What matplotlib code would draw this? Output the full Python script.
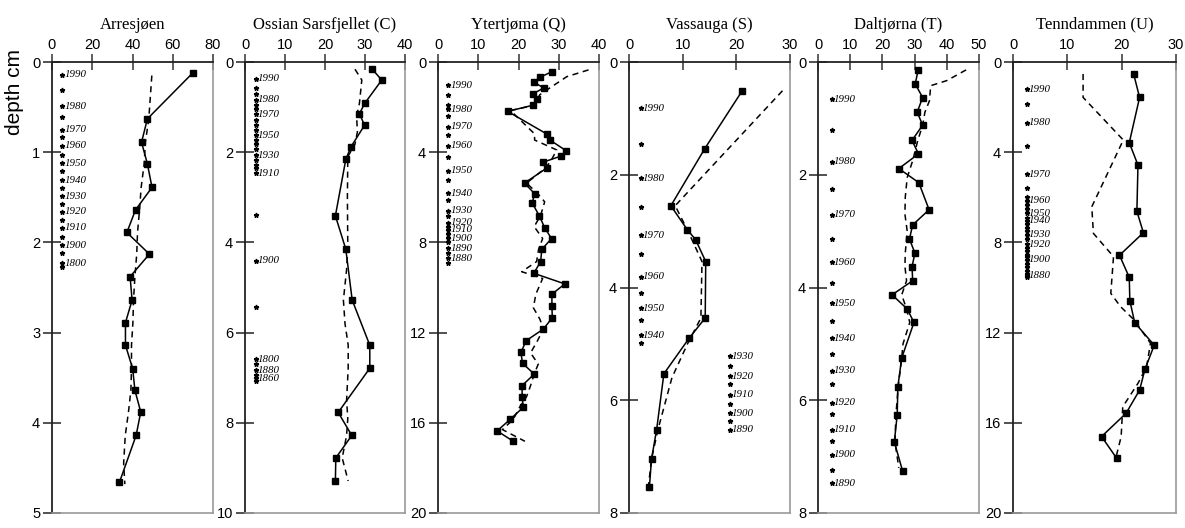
import numpy as np
import matplotlib
matplotlib.use("Agg")
import matplotlib.pyplot as plt

# ---- data (depth in cm) ----
arr_depth = [0.12, 0.63, 0.89, 1.13, 1.39, 1.64, 1.89, 2.13, 2.38, 2.64, 2.89, 3.14, 3.40, 3.64, 3.88, 4.14, 4.66]
arr_val = [70, 47.4, 44.5, 47.4, 49.7, 41.5, 37.2, 48.4, 38.8, 39.8, 36.5, 36.5, 40.1, 41.2, 44.1, 41.8, 33.5]
arr_sdepth = [0.15, 0.63, 0.89, 1.13, 1.39, 1.64, 1.89, 2.13, 2.38, 2.64, 2.89, 3.14, 3.40, 3.64, 3.88, 4.14, 4.45, 4.68]
arr_smooth = [49.6, 48.1, 46.4, 45.8, 44.3, 43.5, 42.5, 42.1, 41.2, 40.5, 40.2, 39.5, 39.5, 39.2, 38.0, 36.4, 35.6, 36.2]
arr_year_d = [0.14, 0.49, 0.75, 0.93, 1.12, 1.31, 1.49, 1.66, 1.84, 2.03, 2.23]
arr_year = ['1990', '1980', '1970', '1960', '1950', '1940', '1930', '1920', '1910', '1900', '1800']
arr_dot_d = [0.31, 0.61, 0.83, 1.03, 1.21, 1.40, 1.57, 1.75, 1.94, 2.12, 2.27]

oss_depth = [0.16, 0.40, 0.92, 1.15, 1.40, 1.88, 2.16, 3.41, 4.15, 5.28, 6.28, 6.79, 7.77, 8.28, 8.78, 9.29]
oss_val = [31.8, 34.2, 29.9, 28.6, 29.9, 26.5, 25.2, 22.6, 25.2, 26.8, 31.2, 31.2, 23.3, 26.7, 22.7, 22.6]
oss_sdepth = [0.16, 0.40, 0.92, 1.2, 1.55, 1.82, 2.1, 3.0, 4.15, 4.6, 5.28, 5.8, 6.28, 6.79, 7.5, 7.9, 8.28, 8.78, 9.29]
oss_smooth = [27.5, 29.2, 28.6, 27.9, 28.1, 27.5, 25.7, 25.6, 25.7, 25.4, 24.6, 25.0, 25.8, 25.8, 25.4, 25.7, 25.4, 24.3, 25.8]
oss_year_d = [0.37, 0.84, 1.16, 1.62, 2.07, 2.47, 4.41, 6.59, 6.83, 7.01]
oss_year = ['1990', '1980', '1970', '1950', '1930', '1910', '1900', '1800', '1880', '1860']
oss_dot_d = [0.58, 0.72, 0.95, 1.05, 1.28, 1.40, 1.50, 1.72, 1.82, 1.93, 2.18, 2.28, 2.36, 3.39, 5.44, 6.70, 6.93, 7.08]

yt_depth = [0.43, 0.68, 0.90, 1.15, 1.40, 1.65, 1.92, 2.19, 3.19, 3.46, 3.93, 4.17, 4.45, 4.68, 5.37, 5.84, 6.25,
            6.83, 7.35, 7.83, 8.31, 8.85, 9.37, 9.84, 10.30, 10.82, 11.34, 11.84, 12.36, 12.88, 13.36, 13.84, 14.35,
            14.84, 15.31, 15.85, 16.36, 16.82]
yt_val = [28.3, 25.3, 23.8, 26.3, 23.7, 24.5, 23.5, 17.3, 27.0, 27.8, 31.8, 30.6, 26.0, 27.2, 21.5, 24.0, 23.4,
          25.2, 26.5, 28.2, 25.8, 25.5, 23.8, 31.5, 28.3, 28.3, 28.4, 26.2, 21.9, 20.6, 21.0, 23.9, 20.9,
          20.9, 21.2, 17.9, 14.7, 18.7]
yt_sdepth = [0.35, 0.65, 1.1, 1.45, 1.92, 2.15, 3.19, 3.46, 3.9, 4.4, 4.7, 5.37, 5.84, 6.2, 6.8, 7.3, 7.83, 8.3,
             8.85, 9.3, 9.6, 10.3, 10.9, 11.4, 11.84, 12.4, 12.9, 13.4, 13.84, 14.35, 14.84, 15.3, 15.85, 16.3, 16.82]
yt_smooth = [37.4, 32.0, 28.2, 25.3, 24.0, 18.0, 24.0, 24.0, 29.5, 28.0, 26.7, 22.0, 24.8, 26.5, 25.5, 23.9, 26.0,
             25.0, 24.5, 20.8, 26.0, 24.3, 23.7, 25.3, 26.2, 24.6, 23.0, 24.9, 23.9, 23.0, 22.0, 20.3, 18.7, 16.0, 21.6]
yt_year_d = [1.02, 2.10, 2.87, 3.72, 4.82, 5.82, 6.59, 7.12, 7.45, 7.82, 8.26, 8.71]
yt_year = ['1990', '1980', '1970', '1960', '1950', '1940', '1930', '1920', '1910', '1900', '1890', '1880']
yt_dot_d = [1.46, 1.9, 2.39, 3.24, 4.2, 5.23, 6.12, 6.85, 7.3, 7.62, 8.0, 8.45, 8.9]

vs_depth = [0.51, 1.54, 2.55, 2.98, 3.15, 3.54, 4.54, 4.90, 5.53, 6.52, 7.04, 7.54]
vs_val = [21.1, 14.1, 7.8, 10.9, 12.4, 14.3, 14.2, 11.2, 6.5, 5.15, 4.2, 3.8]
vs_sdepth = [0.51, 2.55, 2.98, 3.54, 4.54, 5.0, 5.6, 6.52, 7.04, 7.54]
vs_smooth = [28.6, 8.6, 10.9, 13.6, 13.4, 10.9, 8.0, 5.4, 4.2, 3.6]
vs_year_d = [0.82, 2.06, 3.07, 3.81, 4.37, 4.85]
vs_year = ['1990', '1980', '1970', '1960', '1950', '1940']
vs_dot_d = [1.46, 2.58, 3.40, 4.09, 4.57, 4.99]
vs_year2_d = [5.22, 5.57, 5.90, 6.23, 6.52]
vs_year2 = ['1930', '1920', '1910', '1900', '1890']
vs_dot2_d = [5.39, 5.71, 6.06, 6.36]

dt_depth = [0.14, 0.39, 0.63, 0.89, 1.12, 1.39, 1.63, 1.89, 2.14, 2.62, 2.89, 3.14, 3.39, 3.63, 3.88, 4.13, 4.38,
            4.62, 5.25, 5.76, 6.26, 6.74, 7.26]
dt_val = [31.1, 30.2, 32.5, 30.8, 32.5, 29.2, 31.2, 25.1, 31.3, 34.5, 29.4, 28.4, 30.1, 29.2, 29.4, 23.0, 27.7,
          29.8, 26.0, 24.8, 24.6, 23.7, 26.3]
dt_sdepth = [0.14, 0.33, 0.42, 0.69, 0.89, 1.12, 1.39, 1.75, 2.05, 2.4, 2.7, 3.0, 3.39, 3.63, 3.88, 4.13, 4.38,
             4.62, 5.0, 5.25, 5.76, 6.26, 6.74, 7.2]
dt_smooth = [46, 40, 35, 34.6, 33.2, 32.5, 31, 29.4, 27.7, 27.1, 27.0, 27.7, 27.1, 27.0, 27.5, 26.0, 27.5, 28.5,
             26.4, 26.0, 24.9, 24.2, 23.9, 25.1]
dt_year_d = [0.66, 1.77, 2.71, 3.55, 4.28, 4.90, 5.48, 6.04, 6.52, 6.97, 7.47]
dt_year = ['1990', '1980', '1970', '1960', '1950', '1940', '1930', '1920', '1910', '1900', '1890']
dt_dot_d = [1.21, 2.25, 3.14, 3.92, 4.60, 5.18, 5.71, 6.24, 6.73, 7.23]

tn_depth = [0.53, 1.57, 3.58, 4.57, 6.62, 7.57, 8.57, 9.55, 10.58, 11.56, 12.56, 13.61, 14.55, 15.58, 16.61, 17.58]
tn_val = [22.2, 23.3, 21.4, 23.0, 22.8, 24.0, 19.6, 21.4, 21.5, 22.4, 26.0, 24.3, 23.3, 20.8, 16.3, 19.1]
tn_sdepth = [0.53, 1.57, 3.46, 6.42, 7.6, 8.63, 10.26, 10.85, 11.44, 12.47, 13.51, 14.25, 15.29, 16.62, 17.58]
tn_smooth = [12.9, 12.9, 20.3, 14.5, 14.8, 18.5, 18.0, 19.8, 22.3, 25.3, 24.6, 23.0, 20.2, 19.9, 18.9]
tn_year_d = [1.21, 2.69, 4.97, 6.16, 6.71, 7.04, 7.67, 8.09, 8.78, 9.48]
tn_year = ['1990', '1980', '1970', '1960', '1950', '1940', '1930', '1920', '1900', '1880']
tn_dot_d = [1.88, 3.71, 5.60, 6.0, 6.35, 6.5, 6.9, 7.2, 7.35, 7.5, 7.85, 8.25, 8.4, 8.55, 8.65, 8.95, 9.1,
            9.25, 9.4, 9.55]

# panel setup: title, xmax, xstep, ymax, ystep, left/right pixel
panels = [
    ('Arresjøen', 80, 20, 5, 1, 52, 213, arr_depth, arr_val, arr_sdepth, arr_smooth,
     [(5, arr_year_d, arr_year, arr_dot_d)]),
    ('Ossian Sarsfjellet (C)', 40, 10, 10, 2, 245, 405, oss_depth, oss_val, oss_sdepth, oss_smooth,
     [(2.75, oss_year_d, oss_year, oss_dot_d)]),
    ('Ytertjøma (Q)', 40, 10, 20, 4, 438, 599, yt_depth, yt_val, yt_sdepth, yt_smooth,
     [(2.6, yt_year_d, yt_year, yt_dot_d)]),
    ('Vassauga (S)', 30, 10, 8, 2, 629, 790, vs_depth, vs_val, vs_sdepth, vs_smooth,
     [(2.2, vs_year_d, vs_year, vs_dot_d), (18.8, vs_year2_d, vs_year2, vs_dot2_d)]),
    ('Daltjørna (T)', 50, 10, 8, 2, 818, 979, dt_depth, dt_val, dt_sdepth, dt_smooth,
     [(4.2, dt_year_d, dt_year, dt_dot_d)]),
    ('Tenndammen (U)', 30, 10, 20, 4, 1013, 1176, tn_depth, tn_val, tn_sdepth, tn_smooth,
     [(2.5, tn_year_d, tn_year, tn_dot_d)]),
]

W, H = 1185, 528
fig = plt.figure(figsize=(W / 100, H / 100), dpi=100)
serif = 'Liberation Serif'
sans = 'Liberation Sans'

for title, xmax, xstep, ymax, ystep, lpx, rpx, d, v, sd, sv, dates in panels:
    ax = fig.add_axes([lpx / W, (H - 513) / H, (rpx - lpx) / W, 451 / H])
    ax.set_xlim(0, xmax)
    ax.set_ylim(ymax, 0)
    ax.set_xticks(np.arange(0, xmax + 1, xstep))
    ax.set_yticks(np.arange(0, ymax + 0.1, ystep))
    ax.xaxis.tick_top()
    ax.tick_params(axis='x', direction='inout', length=11, width=1.1, pad=2, labelsize=10.5, color='#333333')
    ax.tick_params(axis='y', direction='inout', length=13, width=1.1, pad=2, labelsize=10.5, color='#222222')
    for lab in ax.get_xticklabels() + ax.get_yticklabels():
        lab.set_fontfamily(sans)
    for s in ['left', 'top']:
        ax.spines[s].set_color('#222222')
        ax.spines[s].set_linewidth(1.3)
    for s in ['right', 'bottom']:
        ax.spines[s].set_color('#999999')
        ax.spines[s].set_linewidth(1.2)
    ax.set_title(title, fontfamily=serif, fontsize=12, pad=24)

    ax.plot(sv, sd, color='black', lw=1.1, dashes=(4, 3))
    ax.plot(v, d, color='black', lw=1.1, marker='s', markersize=4.8)

    for xd, yd, years, dots in dates:
        ax.plot([xd] * len(yd), yd, ls='none', marker='*', markersize=3.5, color='black')
        ax.plot([xd] * len(dots), dots, ls='none', marker='*', markersize=3.5, color='black')
        for y, t in zip(yd, years):
            ax.annotate(t, (xd, y), xytext=(1.5, 0), textcoords='offset points', va='center', ha='left',
                        fontfamily=serif, fontstyle='italic', fontsize=7.8)
    ax.set_clip_on(False)

fig.text(15 / W, 1 - 92 / H, 'depth cm', rotation=90, ha='center', va='center', fontsize=15, fontfamily=sans)

fig.savefig('out.png', dpi=100)
